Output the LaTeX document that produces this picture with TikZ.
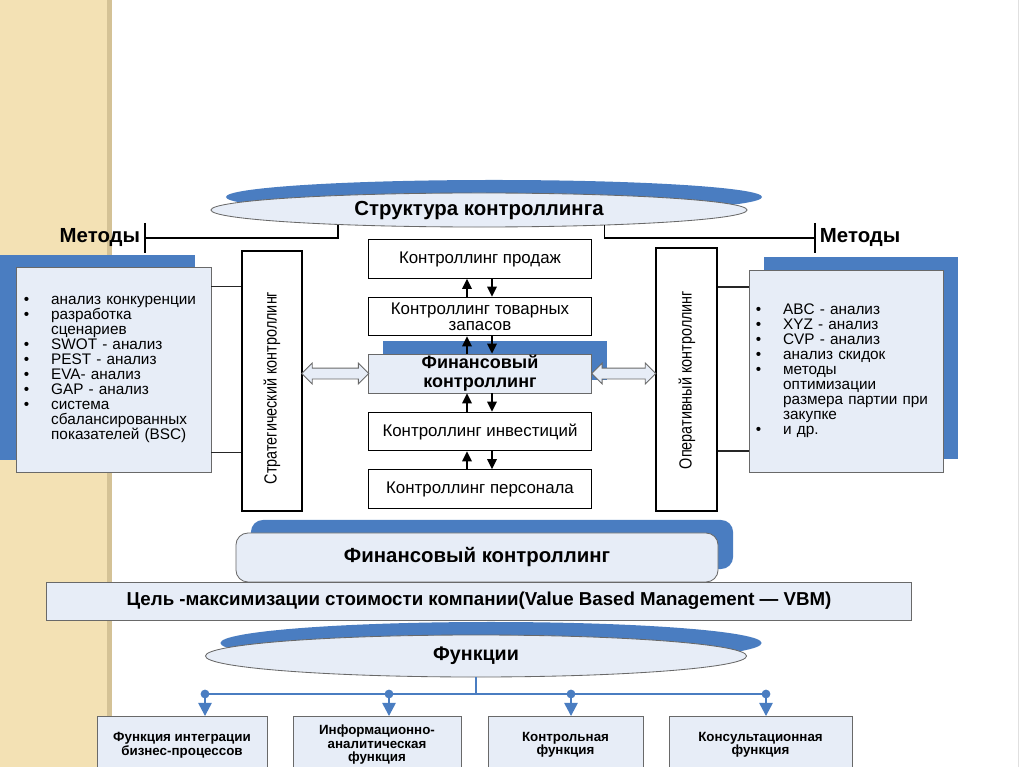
\documentclass[tikz,border=0pt]{standalone}
\usepackage{fontspec}
\setmainfont{Liberation Sans}
\newfontfamily\narrowfont[FakeStretch=0.82]{Liberation Sans}
\usetikzlibrary{arrows.meta,shapes.geometric,shapes.arrows,shadows,calc}
\definecolor{beige}{RGB}{243,225,180}
\definecolor{beigeedge}{RGB}{212,194,150}
\definecolor{boxblue}{RGB}{74,125,193}
\definecolor{boxfill}{RGB}{231,237,247}
\definecolor{boxline}{RGB}{105,105,105}
\newcommand{\bl}{\makebox[0.68cm][l]{\textbullet}}
\newcommand{\nb}{\hspace*{0.68cm}}

\begin{document}
\begin{tikzpicture}[x=0.025cm,y=-0.025cm,
    wbox/.style={draw=black,fill=white,line width=0.8pt,minimum width=5.575cm,minimum height=0.96cm,inner sep=0pt,align=center,font=\fontsize{12}{11.5}\selectfont},
    lbox/.style={draw=boxline,fill=boxfill,line width=0.6pt,inner sep=0pt},
    vbox/.style={draw=black,fill=white,line width=0.8pt,inner sep=0pt},
    vtxt/.style={rotate=90,inner sep=0pt,font=\narrowfont\fontsize{12.5}{13}\selectfont},
    ovalbox/.style={ellipse,draw=boxline,fill=boxfill,line width=0.6pt,inner sep=0pt,font=\bfseries\fontsize{14.5}{16}\selectfont},
    shadowR/.style={general shadow={fill=boxblue,shadow xshift=0.375cm,shadow yshift=0.325cm}},
    shadowL/.style={general shadow={fill=boxblue,shadow xshift=-0.39cm,shadow yshift=0.3cm}},
    methlbl/.style={font=\bfseries\fontsize{14.5}{16}\selectfont},
    listbox/.style={lbox,align=left,font=\fontsize{10.9}{10.7}\selectfont},
    fbox/.style={lbox,minimum height=1.43cm,align=center,font=\bfseries\fontsize{9.5}{9.6}\selectfont},
    dblarrow/.style={double arrow,draw=boxline,fill=boxfill,line width=0.6pt,minimum width=0.5cm,double arrow head extend=0.125cm,inner sep=0pt,inner ysep=0.125cm},
    varrow/.style={line width=1pt,-{Triangle[length=0.25cm,width=0.24cm]}},
    cline/.style={line width=0.9pt,black!85},
    tbar/.style={line width=1.3pt},
    bluecon/.style={line width=1pt,boxblue},
    bluearr/.style={line width=1pt,boxblue,-{Triangle[length=0.33cm,width=0.34cm]}}]
    \useasboundingbox (0,0) rectangle (1024,767);
    \clip (0,0) rectangle (1024,767);
    \fill[beige] (0,0) rectangle (107,767);
    \fill[beigeedge] (107,0) rectangle (112,767);
    \draw[black!12] (1018,0) -- (1018,767);

    \node[ovalbox,shadowR,minimum width=13.4cm,minimum height=0.85cm] (struct) at (479,210) {Структура контроллинга};
    \coordinate (mL) at (145,238);
    \coordinate (mR) at (815,238);
    \draw[tbar] (struct.186.8) |- (mL);
    \draw[tbar] (struct.353) |- (mR);
    \draw[tbar] ([yshift=0.375cm]mL) -- ([yshift=-0.375cm]mL);
    \draw[tbar] ([yshift=0.375cm]mR) -- ([yshift=-0.375cm]mR);
    \node[methlbl,anchor=east] (metL) at (mL) {Методы};
    \node[methlbl,anchor=west] (metR) at (mR) {Методы};

    \node[wbox] (prod) at (480,259) {Контроллинг продаж};
    \node[wbox] (tov) at (480,316.5) {Контроллинг товарных\\запасов};
    \node[lbox,shadowR,minimum width=5.575cm,minimum height=0.975cm,align=center,font=\bfseries\fontsize{12.8}{13.4}\selectfont] (fin) at (480,373.5) {Финансовый\\контроллинг};
    \node[wbox] (inv) at (480,431.5) {Контроллинг инвестиций};
    \node[wbox] (pers) at (480,489) {Контроллинг персонала};
    \foreach \a/\b in {tov/prod,fin/tov,inv/fin,pers/inv}{
        \draw[varrow] ([xshift=-0.325cm]\a.north) -- ([xshift=-0.325cm]\b.south);
        \draw[varrow] ([xshift=0.3cm]\b.south) -- ([xshift=0.3cm]\a.north);
    }

    \node[vbox,minimum width=1.5cm,minimum height=6.5cm] (strat) at (272,381) {};
    \node[vtxt] (stratT) at (272,388) {Стратегический контроллинг};
    \node[vbox,minimum width=1.525cm,minimum height=6.575cm] (oper) at (686.5,379.5) {};
    \node[vtxt] (operT) at (687,380) {Оперативный контроллинг};

    \node[listbox,shadowL,minimum width=4.875cm,minimum height=5.125cm,text width=4.475cm] (lmeth) at (113.5,369.5) {%
        \bl анализ конкуренции\\
        \bl разработка\\
        \nb сценариев\\
        \bl SWOT - анализ\\
        \bl PEST - анализ\\
        \bl EVA- анализ\\
        \bl GAP - анализ\\
        \bl система\\
        \nb сбалансированных\\
        \nb показателей (BSC)};
    \node[listbox,shadowR,minimum width=4.85cm,minimum height=5.05cm,text width=4.5cm] (rmeth) at (846,371) {%
        \bl ABC - анализ\\
        \bl XYZ - анализ\\
        \bl CVP - анализ\\
        \bl анализ скидок\\
        \bl методы\\
        \nb оптимизации\\
        \nb размера партии при\\
        \nb закупке\\
        \bl и др.};
    \coordinate (l1) at ([yshift=2.075cm]lmeth.east);
    \coordinate (l2) at ([yshift=-2.075cm]lmeth.east);
    \coordinate (r1) at ([yshift=2.1cm]rmeth.west);
    \coordinate (r2) at ([yshift=-2.0cm]rmeth.west);
    \draw[cline] (l1) -- (l1 -| strat.west);
    \draw[cline] (l2) -- (l2 -| strat.west);
    \draw[cline] (r1 -| oper.east) -- (r1);
    \draw[cline] (r2 -| oper.east) -- (r2);

    \node[dblarrow,minimum height=1.675cm] (la) at ($(strat.east |- fin.west)!0.5!(fin.west)$) {};
    \node[dblarrow,minimum height=1.6cm] (ra) at ($(fin.east)!0.5!(oper.west |- fin.east)$) {};

    \node[lbox,shadowR,rounded corners=0.3cm,minimum width=12.05cm,minimum height=1.225cm,font=\bfseries\fontsize{14.5}{16}\selectfont] (fin2) at (477,557.5) {Финансовый контроллинг};
    \node[lbox,minimum width=21.6cm,minimum height=0.95cm,font=\bfseries\fontsize{13.3}{14}\selectfont] (goal) at (479,601) {Цель -максимизации стоимости компании(Value Based Management — VBM)};
    \node[ovalbox,shadowR,minimum width=13.525cm,minimum height=1.05cm,font=\bfseries\fontsize{14}{16}\selectfont] (func) at (476,656) {Функции};

    \coordinate (d1) at (205,694);
    \coordinate (d2) at (389,694);
    \coordinate (d3) at (571,694);
    \coordinate (d4) at (766,694);
    \node[fbox,minimum width=4.25cm] (f1) at (182,745) {Функция интеграции\\бизнес-процессов};
    \node[fbox,minimum width=4.2cm] (f2) at (377,745) {Информационно-\\аналитическая\\функция};
    \node[fbox,minimum width=3.875cm] (f3) at (565.5,745) {Контрольная\\функция};
    \node[fbox,minimum width=4.575cm] (f4) at (760.5,745) {Консультационная\\функция};
    \draw[bluecon] (func.south) -- (func.south |- d1);
    \draw[bluecon] (d1) -- (d4);
    \foreach \d/\f in {d1/f1,d2/f2,d3/f3,d4/f4}{
        \fill[boxblue] (\d) circle[radius=0.11cm];
        \draw[bluearr] (\d) -- (\d |- \f.north);
    }
\end{tikzpicture}
\end{document}
